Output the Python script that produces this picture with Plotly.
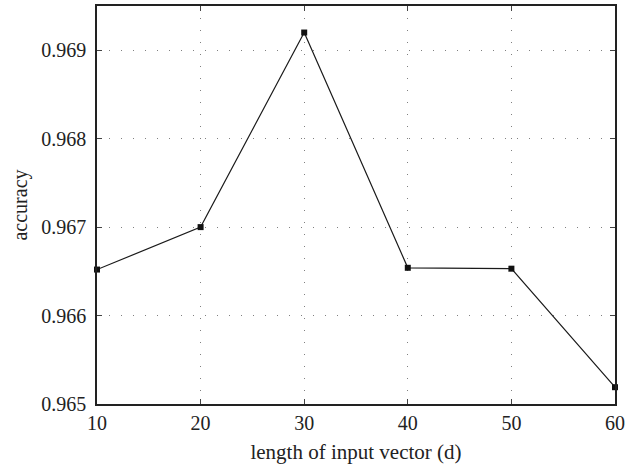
import plotly.graph_objects as go

d_values = [10, 20, 30, 40, 50, 60]
accuracy = [0.96652, 0.96700, 0.96920, 0.96654, 0.96653, 0.96519]
x_ticks = [10, 20, 30, 40, 50, 60]
y_ticks = [0.965, 0.966, 0.967, 0.968, 0.969]

font_family = "Liberation Serif, Times New Roman, serif"

fig = go.Figure()
fig.add_trace(go.Scatter(
    x=d_values, y=accuracy, mode="lines+markers",
    line=dict(color="#1a1a1a", width=1.2),
    marker=dict(symbol="square", size=6, color="#111111"),
    showlegend=False, cliponaxis=False,
))

axis_common = dict(
    showline=True, linecolor="#222222", linewidth=1.5, mirror="ticks",
    ticks="inside", ticklen=5, tickcolor="#444444", tickwidth=1,
    showgrid=True, gridcolor="#808080", griddash="1.2px,10.8px", gridwidth=1,
    zeroline=False,
    tickfont=dict(family=font_family, size=20, color="#222222"),
)

fig.update_layout(
    width=638, height=468,
    margin=dict(l=97, r=23, t=4, b=64),
    paper_bgcolor="white", plot_bgcolor="white",
    xaxis=dict(range=[10, 60], tickvals=x_ticks, ticktext=[str(v) for v in x_ticks],
               title=dict(text="length of input vector (d)", standoff=12,
                          font=dict(family=font_family, size=21, color="#222222")),
               **axis_common),
    yaxis=dict(range=[0.965, 0.9695], tickvals=y_ticks, ticktext=[f"{v:.3f}" for v in y_ticks],
               ticklabelstandoff=5,
               title=dict(text="accuracy", standoff=8,
                          font=dict(family=font_family, size=20, color="#222222")),
               **axis_common),
)

fig.write_html("out.html")
